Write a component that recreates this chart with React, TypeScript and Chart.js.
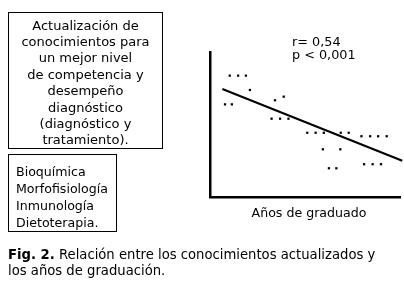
import React, { useEffect, useRef } from "react";
import { Chart, registerables } from "chart.js";

Chart.register(...registerables);

const xValues = [10.4, 14.8, 18.9, 21.0, 7.9, 11.5, 34.2, 38.8, 32.4, 36.9, 41.3, 51.2, 55.6, 59.9, 68.8, 73.0, 79.7, 84.3, 88.5, 93.0, 59.4, 68.6, 62.6, 66.5, 81.1, 85.6, 90.0];
const yValues = [83.7, 83.7, 83.7, 73.8, 63.9, 63.9, 66.7, 69.2, 54.0, 54.0, 54.0, 44.3, 44.3, 44.3, 44.3, 44.3, 41.9, 41.9, 41.9, 41.9, 32.9, 32.9, 19.8, 19.8, 22.6, 22.6, 22.6];
const trendX = [6.5, 101.2];
const trendY = [74.5, 25.0];
const statsLines = ["r= 0,54", "p < 0,001"];
const xAxisTitle = "Años de graduado";
const box1Lines = ["Actualización de", "conocimientos para", "un mejor nivel", "de competencia y", "desempeño", "diagnóstico", "(diagnóstico y", "tratamiento)."];
const box2Lines = ["Bioquímica", "Morfofisiología", "Inmunología", "Dietoterapia."];
const captionBold = "Fig. 2.";
const captionLine1 = " Relación entre los conocimientos actualizados y";
const captionLine2 = "los años de graduación.";

const FONT = "'DejaVu Sans', Verdana, sans-serif";

export default function App() {
  const ref = useRef<HTMLCanvasElement>(null);
  useEffect(() => {
    if (!ref.current) return;
    const textPlugin = {
      id: "texts",
      afterDraw(chart: any) {
        const ctx = chart.ctx;
        const area = chart.chartArea;
        ctx.save();
        ctx.fillStyle = "#000";
        ctx.font = `12.8px ${FONT}`;
        ctx.textBaseline = "middle";
        ctx.textAlign = "left";
        statsLines.forEach((t, i) => ctx.fillText(t, 292, 43 + i * 13));
        ctx.font = `12.6px ${FONT}`;
        ctx.textAlign = "center";
        ctx.fillText(xAxisTitle, (area.left + area.right) / 2 + 4, area.bottom + 17);
        ctx.restore();
      },
    };
    const chart = new Chart(ref.current, {
      type: "scatter",
      data: {
        datasets: [
          {
            data: xValues.map((x, i) => ({ x, y: yValues[i] })),
            pointStyle: "rect",
            pointRadius: 1.6,
            backgroundColor: "#000",
            borderColor: "#000",
            borderWidth: 0,
          },
          {
            type: "line",
            data: trendX.map((x, i) => ({ x, y: trendY[i] })),
            borderColor: "#000",
            borderWidth: 2,
            pointRadius: 0,
            clip: false,
          } as any,
        ],
      },
      options: {
        animation: false,
        responsive: false,
        layout: { padding: { left: 210, top: 52, right: 4, bottom: 90 } },
        plugins: { legend: { display: false }, tooltip: { enabled: false } },
        scales: {
          x: {
            type: "linear",
            min: 0,
            max: 100,
            ticks: { display: false },
            grid: { display: false, drawTicks: false },
            border: { display: true, color: "#000", width: 2.5 },
          },
          y: {
            type: "linear",
            min: 0,
            max: 100,
            ticks: { display: false },
            grid: { display: false, drawTicks: false },
            border: { display: true, color: "#000", width: 2.5 },
          },
        },
      },
      plugins: [textPlugin],
    });
    return () => chart.destroy();
  }, []);

  return (
    <div style={{ position: "absolute", left: 0, top: 0, width: 404, height: 287, background: "#fff", fontFamily: FONT, color: "#000", overflow: "hidden" }}>
      <canvas ref={ref} width={404} height={287} style={{ position: "absolute", left: 0, top: 0 }} />
      <div style={{ position: "absolute", left: 8, top: 12, width: 155, height: 137, border: "1px solid #000", textAlign: "center", fontSize: 13, lineHeight: "16.4px", paddingTop: 4.5, boxSizing: "border-box", whiteSpace: "nowrap" }}>
        {box1Lines.map((l, i) => (<div key={i}>{l}</div>))}
      </div>
      <div style={{ position: "absolute", left: 8, top: 154, width: 109, height: 78, border: "1px solid #000", textAlign: "left", fontSize: 12.6, lineHeight: "17px", paddingLeft: 7, paddingTop: 7.5, boxSizing: "border-box", whiteSpace: "nowrap" }}>
        {box2Lines.map((l, i) => (<div key={i}>{l}</div>))}
      </div>
      <div style={{ position: "absolute", left: 8, top: 246.5, fontSize: 13.2, lineHeight: "16.7px", whiteSpace: "nowrap" }}>
        <div><b>{captionBold}</b>{captionLine1}</div>
        <div>{captionLine2}</div>
      </div>
    </div>
  );
}
